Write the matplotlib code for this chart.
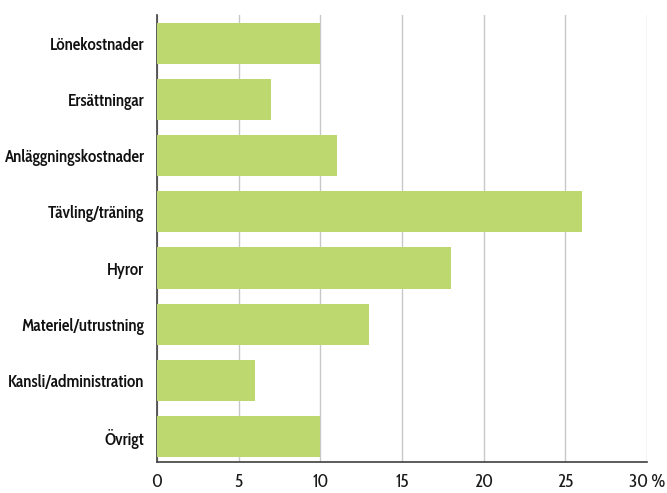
import matplotlib
matplotlib.use("Agg")
import matplotlib.pyplot as plt

categories = ["Lönekostnader", "Ersättningar", "Anläggningskostnader", "Tävling/träning",
              "Hyror", "Materiel/utrustning", "Kansli/administration", "Övrigt"]
values = [10, 7, 11, 26, 18, 13, 6, 10]
xticks = [0, 5, 10, 15, 20, 25, 30]
xticklabels = ["0", "5", "10", "15", "20", "25", "30 %"]

plt.rcParams["font.family"] = ["Cabin Condensed", "DejaVu Sans"]

fig = plt.figure(figsize=(6.67, 4.93), dpi=100)
ax = fig.add_axes([157/667, 1-462/493, (647-157)/667, (462-15)/493])

y = list(range(len(categories)))
ax.barh(y, values, height=0.73, color="#bdd86f", zorder=3)
ax.set_ylim(len(categories) - 0.55, -0.5)
ax.set_xlim(0, 30)
ax.set_xticks(xticks)
ax.set_xticklabels(xticklabels, fontsize=13, color="#1a1a1a")
ax.set_yticks(y)
ax.set_yticklabels(categories, fontsize=12.3, color="#111111", fontweight="semibold")
ax.grid(axis="x", color="#c8c8c8", linewidth=1.0, zorder=0)
for s in ["top", "right"]:
    ax.spines[s].set_visible(False)
for s in ["left", "bottom"]:
    ax.spines[s].set_color("#404040")
    ax.spines[s].set_linewidth(1.2)
ax.tick_params(axis="y", length=0, pad=9)
ax.tick_params(axis="x", length=0, pad=8)

fig.savefig("out.png", dpi=100)
